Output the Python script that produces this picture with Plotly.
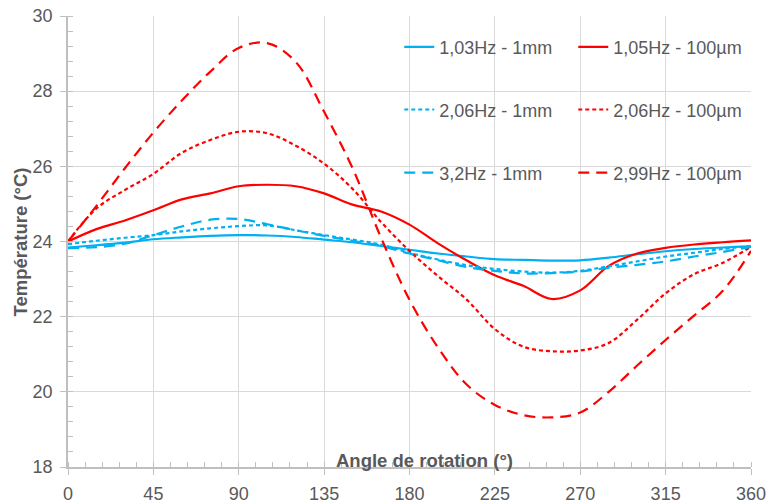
import plotly.graph_objects as go

angles = list(range(0, 361, 15))

blue_103 = [23.84, 23.90, 23.97, 24.06, 24.11, 24.15, 24.17, 24.16, 24.12, 24.05, 23.98, 23.88, 23.78,
            23.68, 23.60, 23.53, 23.51, 23.49, 23.50, 23.57, 23.66, 23.74, 23.80, 23.84, 23.87]
blue_206 = [23.93, 24.02, 24.10, 24.17, 24.27, 24.35, 24.41, 24.43, 24.30, 24.17, 24.05, 23.92, 23.70,
            23.52, 23.37, 23.27, 23.20, 23.17, 23.22, 23.34, 23.47, 23.60, 23.70, 23.80, 23.88]
blue_32 = [23.82, 23.85, 23.94, 24.17, 24.40, 24.58, 24.60, 24.46, 24.30, 24.15, 24.02, 23.88, 23.68,
           23.50, 23.32, 23.22, 23.15, 23.16, 23.20, 23.30, 23.38, 23.47, 23.60, 23.72, 23.86]
red_105 = [24.00, 24.33, 24.56, 24.83, 25.12, 25.28, 25.47, 25.51, 25.47, 25.28, 24.98, 24.80, 24.45,
           23.95, 23.50, 23.10, 22.82, 22.47, 22.70, 23.35, 23.68, 23.83, 23.92, 23.98, 24.03]
red_206 = [24.00, 24.88, 25.37, 25.80, 26.36, 26.70, 26.92, 26.88, 26.55, 26.07, 25.40, 24.52, 23.75,
           23.08, 22.46, 21.67, 21.20, 21.08, 21.10, 21.30, 21.92, 22.62, 23.13, 23.43, 23.86]
red_299 = [24.00, 24.95, 25.95, 26.90, 27.75, 28.52, 29.15, 29.28, 28.78, 27.45, 25.95, 24.10, 22.45,
           21.18, 20.20, 19.65, 19.38, 19.32, 19.45, 20.00, 20.70, 21.38, 22.03, 22.68, 23.75]

x_ticks = [0, 45, 90, 135, 180, 225, 270, 315, 360]
y_ticks = [18, 20, 22, 24, 26, 28, 30]

BLUE = "#00B0F0"
RED = "#FF0000"
GRAY = "#595959"
FONT = "Liberation Sans, Arial, sans-serif"

series = [
    ("1,03Hz - 1mm", blue_103, BLUE, "solid", "legend"),
    ("1,05Hz - 100µm", red_105, RED, "solid", "legend"),
    ("2,06Hz - 1mm", blue_206, BLUE, "4px,3px", "legend2"),
    ("2,06Hz - 100µm", red_206, RED, "4px,3px", "legend2"),
    ("3,2Hz - 1mm", blue_32, BLUE, "11px,7px", "legend3"),
    ("2,99Hz - 100µm", red_299, RED, "11px,7px", "legend3"),
]

fig = go.Figure()
for name, vals, col, dash, leg in series:
    fig.add_trace(go.Scatter(
        x=angles, y=vals, name=name, mode="lines",
        line=dict(color=col, width=2.2, dash=dash, shape="spline", smoothing=1.0),
        legend=leg,
    ))

legend_common = dict(
    orientation="h", xanchor="left", yanchor="middle",
    bgcolor="rgba(0,0,0,0)", borderwidth=0,
    font=dict(family=FONT, size=18, color=GRAY),
    entrywidth=129, entrywidthmode="pixels",
    itemwidth=30,
)

fig.update_layout(
    width=768, height=504,
    margin=dict(l=68, r=17, t=16, b=37, autoexpand=False),
    paper_bgcolor="white", plot_bgcolor="white",
    font=dict(family=FONT, size=18, color=GRAY),
    showlegend=True,
    legend=dict(x=0.485, y=0.931, **legend_common),
    legend2=dict(x=0.485, y=0.792, **legend_common),
    legend3=dict(x=0.485, y=0.652, **legend_common),
    xaxis=dict(
        range=[0, 360], tickvals=x_ticks, ticktext=[str(v) for v in x_ticks],
        showgrid=True, gridcolor="#D9D9D9", gridwidth=1,
        showline=True, linecolor="#BFBFBF", linewidth=1.5,
        ticks="outside", ticklen=6, tickcolor="#BFBFBF",
        minor=dict(dtick=9, ticks="inside", ticklen=5, tickcolor="#BFBFBF", showgrid=False),
        tickfont=dict(family=FONT, size=18, color=GRAY),
        zeroline=False, ticklabelstandoff=4, automargin=False,
    ),
    yaxis=dict(
        range=[18, 30], tickvals=y_ticks, ticktext=[str(v) for v in y_ticks],
        showgrid=True, gridcolor="#D9D9D9", gridwidth=1,
        showline=True, linecolor="#BFBFBF", linewidth=1.5,
        ticks="outside", ticklen=6, tickcolor="#BFBFBF",
        minor=dict(dtick=0.4, ticks="inside", ticklen=5, tickcolor="#BFBFBF", showgrid=False),
        tickfont=dict(family=FONT, size=18, color=GRAY),
        zeroline=False, ticklabelstandoff=4, automargin=False,
    ),
    annotations=[
        dict(text="<b>Angle de rotation (°)</b>", x=(424 - 68) / 683, y=(467 - 460) / 451,
             xref="paper", yref="paper",
             xanchor="center", yanchor="middle", showarrow=False,
             font=dict(family=FONT, size=18.5, color=GRAY)),
        dict(text="<b>Température (°C)</b>", x=(20 - 68) / 683, y=(467 - 242.5) / 451,
             xref="paper", yref="paper",
             xanchor="center", yanchor="middle", showarrow=False, textangle=-90,
             font=dict(family=FONT, size=18.5, color=GRAY)),
    ],
)

fig.write_html(
    "out.html",
    config={"displayModeBar": False},
    post_script="document.body.style.margin='0';document.body.style.padding='0';",
)
